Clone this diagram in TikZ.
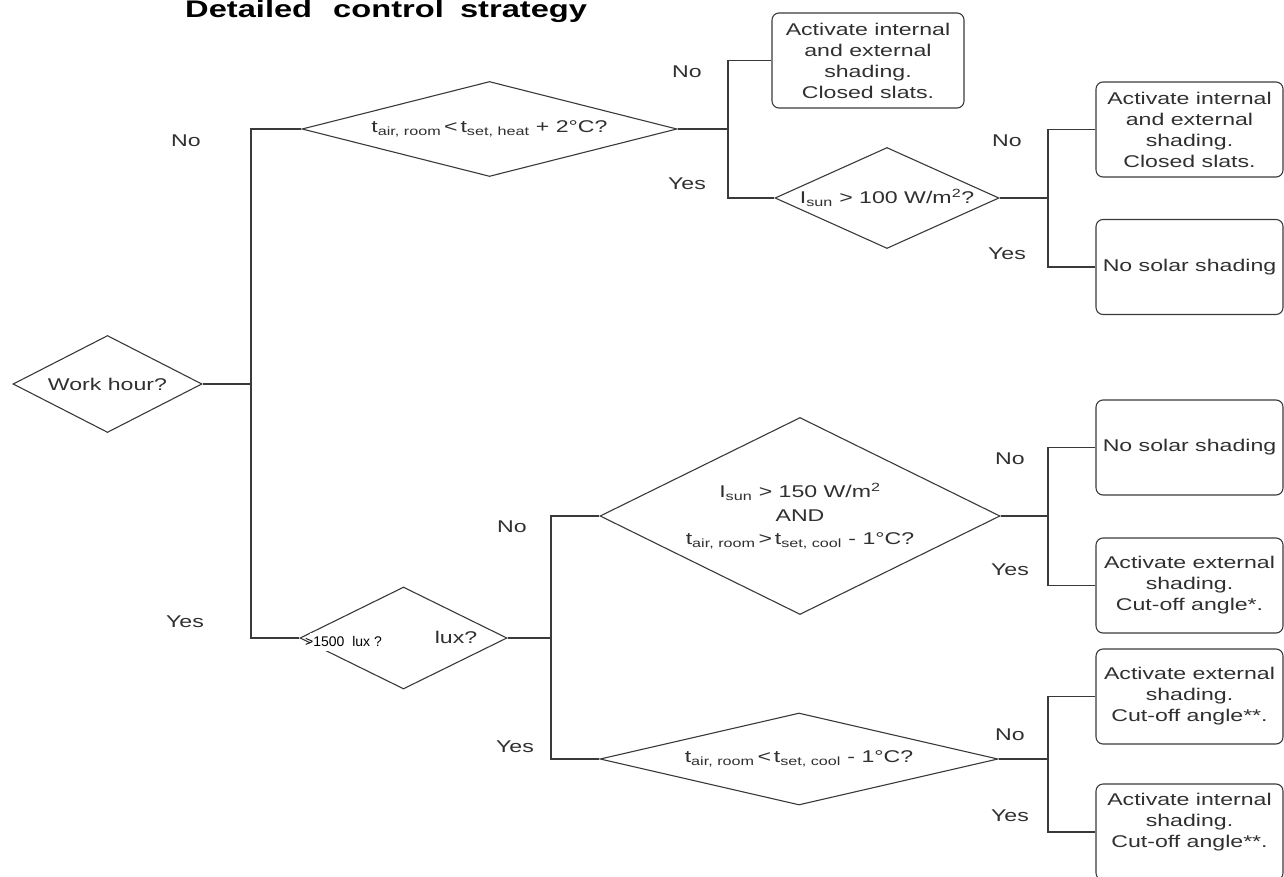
\documentclass[tikz,border=0pt]{standalone}
\usepackage{fontspec}
\setmainfont[FakeStretch=1.36]{Liberation Sans}
\newfontfamily\notefont{Liberation Sans}
\usetikzlibrary{shapes.geometric}

\definecolor{ink}{HTML}{303030}
\definecolor{wirecol}{HTML}{3A3A3A}

\tikzset{
  base/.style={font=\fontsize{17}{21}\selectfont, text=ink, inner sep=0pt},
  decision/.style={shape=diamond, draw=wirecol, line width=1.1pt, inner sep=0pt, fill=white},
  action/.style={draw=wirecol, line width=1.1pt, rounded corners=7pt, minimum width=187pt,
                 minimum height=95pt, align=center, inner sep=0pt, base},
  answer/.style={base},
  link/.style={draw=wirecol, line width=1.1pt},
}

\begin{document}
\begin{tikzpicture}[x=1pt,y=-1pt]
  \useasboundingbox (0,0) rectangle (1284,877);
  \clip (0,0) rectangle (1284,877);

  % title
  \node[anchor=base west, inner sep=0pt, text=black,
        font=\fontsize{24}{28}\selectfont\bfseries] (title) at (185,18)
        {Detailed\hspace{0.5em} control\hspace{0.3em} strategy};

  % junctions
  \coordinate (j0) at (251,384);
  \coordinate (j1) at (728,129);
  \coordinate (j2) at (1048,198);
  \coordinate (j3) at (551,638);
  \coordinate (j4) at (1048,516);
  \coordinate (j5) at (1048,759);

  % decisions
  \node[decision, minimum width=189pt, minimum height=97pt] (work) at (107.5,384) {};
  \node[base] (workt) at (work) {Work hour?};

  \node[decision, minimum width=375pt, minimum height=95pt] (heat) at (489.5,129) {};
  \node[base] (heatt) at (heat)
    {t\textsubscript{air, room}\,<\,t\textsubscript{set, heat} + 2°C?};

  \node[decision, minimum width=224pt, minimum height=101pt] (sun1) at (887,198) {};
  \node[base] (sun1t) at (sun1) {I\textsubscript{sun} > 100 W/m\textsuperscript{2}?};

  \node[decision, minimum width=207pt, minimum height=102pt] (lux) at (403.5,638) {};

  \node[decision, minimum width=400pt, minimum height=197pt] (cool1) at (800,516) {};
  \node[base, align=center, font=\fontsize{17}{23.5}\selectfont] (cool1t) at (cool1)
    {I\textsubscript{sun} > 150 W/m\textsuperscript{2}\\ AND\\
     t\textsubscript{air, room}\,>\,t\textsubscript{set, cool} - 1°C?};

  \node[decision, minimum width=398pt, minimum height=92pt] (cool2) at (799,759) {};
  \node[base] (cool2t) at (cool2)
    {t\textsubscript{air, room}\,<\,t\textsubscript{set, cool} - 1°C?};

  % actions
  \node[action, minimum width=192pt] (m1) at (868,60.5)
    {Activate internal\\ and external\\ shading.\\ Closed slats.};
  \node[action] (r1) at (1189.5,129.5)
    {Activate internal\\ and external\\ shading.\\ Closed slats.};
  \node[action] (r2) at (1189.5,267) {No solar shading};
  \node[action] (r3) at (1189.5,447.5) {No solar shading};
  \node[action] (r4) at (1189.5,585.5)
    {Activate external\\ shading.\\ Cut-off angle*.};
  \node[action] (r5) at (1189.5,696.5)
    {Activate external\\ shading.\\ Cut-off angle**.};
  \node[action, minimum height=96pt] (r6) at (1189.5,832) {};
  \node[base, align=center] (r6t) at (1189.5,822)
    {Activate internal\\ shading.\\ Cut-off angle**.};

  % connectors
  \draw[link] (work.east) -- (j0) |- (heat.west);
  \draw[link] (j0) |- (lux.west);
  \draw[link] (heat.east) -- (j1) |- (m1.west);
  \draw[link] (j1) |- (sun1.west);
  \draw[link] (sun1.east) -- (j2) |- (r1.west);
  \draw[link] (j2) |- (r2.west);
  \draw[link] (lux.east) -- (j3) |- (cool1.west);
  \draw[link] (j3) |- (cool2.west);
  \draw[link] (cool1.east) -- (j4) |- (r3.west);
  \draw[link] (j4) |- (r4.west);
  \draw[link] (cool2.east) -- (j5) |- (r5.west);
  \draw[link] (j5) |- (r6.west);

  % illuminance question with its pasted-over threshold
  \node[base, anchor=base] (luxt) at (456,643) {lux?};
  \node[fill=white, inner sep=0pt, minimum width=118pt, minimum height=18pt,
        anchor=west] (luxpatch) at (310,642) {};
  \node[anchor=base west, inner sep=0pt, text=black,
        font=\notefont\fontsize{14}{16}\selectfont] (luxnote) at (305,646) {>1500\ \ lux ?};

  % branch answers
  \node[answer] (a0n) at (186,141) {No};
  \node[answer] (a0y) at (185,622) {Yes};
  \node[answer] (a1n) at (687,72) {No};
  \node[answer] (a1y) at (687,184) {Yes};
  \node[answer] (a2n) at (1007,141) {No};
  \node[answer] (a2y) at (1007,254) {Yes};
  \node[answer] (a3n) at (512,527) {No};
  \node[answer] (a3y) at (515,747) {Yes};
  \node[answer] (a4n) at (1010,459) {No};
  \node[answer] (a4y) at (1010,570) {Yes};
  \node[answer] (a5n) at (1010,735) {No};
  \node[answer] (a5y) at (1010,816) {Yes};
\end{tikzpicture}
\end{document}
